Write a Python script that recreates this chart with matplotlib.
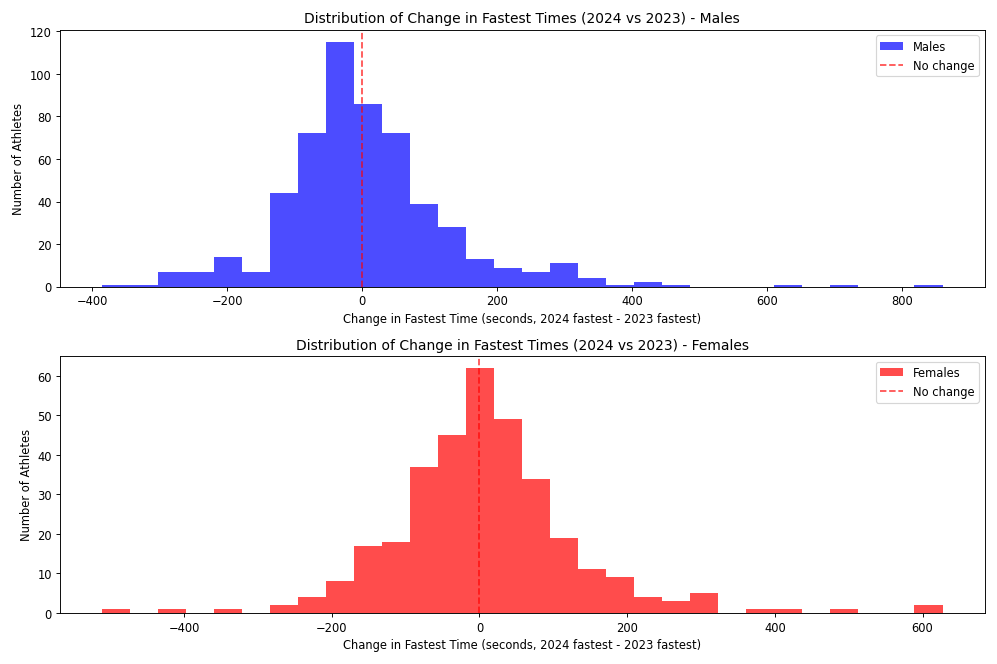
import matplotlib
matplotlib.use("Agg")
import matplotlib.pyplot as plt
import numpy as np

# bin counts (30 equal bins each)
male_range = (-385.6, 859.4)
male_counts = [1, 1, 7, 7, 14, 7, 44, 72, 115, 86, 72, 39, 28, 13, 9,
               7, 11, 4, 1, 2, 1, 0, 0, 0, 1, 0, 1, 0, 0, 1]

female_range = (-511.0, 627.0)
female_counts = [1, 0, 1, 0, 1, 0, 2, 4, 8, 17, 18, 37, 45, 62, 49,
                 34, 19, 11, 9, 4, 3, 5, 0, 1, 1, 0, 1, 0, 0, 2]

xlabel = 'Change in Fastest Time (seconds, 2024 fastest - 2023 fastest)'
title_fmt = 'Distribution of Change in Fastest Times (2024 vs 2023) - {}'


def draw_hist(ax, counts, rng, color, label):
    edges = np.linspace(rng[0], rng[1], len(counts) + 1)
    centers = (edges[:-1] + edges[1:]) / 2
    ax.hist(centers, bins=edges, weights=counts, color=color, alpha=0.7, label=label)
    ax.axvline(0, color='red', linestyle='--', alpha=0.7, label='No change')
    ax.set_xlabel(xlabel)
    ax.set_ylabel('Number of Athletes')
    ax.set_title(title_fmt.format(label))
    ax.legend(loc='upper right')


fig, (ax1, ax2) = plt.subplots(2, 1, figsize=(12, 8), dpi=997 / 12)

draw_hist(ax1, male_counts, male_range, 'blue', 'Males')
draw_hist(ax2, female_counts, female_range, 'red', 'Females')

plt.tight_layout()
plt.savefig('out.png', dpi=997 / 12)
